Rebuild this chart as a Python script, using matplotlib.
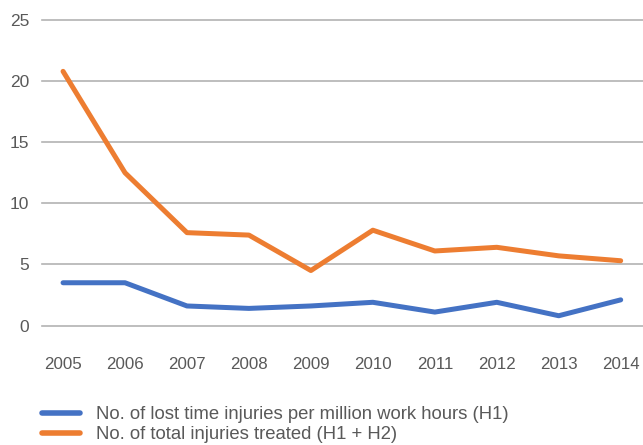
import matplotlib.pyplot as plt

# Injury statistics, 2005-2014
years = ['2005', '2006', '2007', '2008', '2009', '2010', '2011', '2012', '2013', '2014']
lost_time_h1 = [3.5, 3.5, 1.6, 1.4, 1.6, 1.9, 1.1, 1.9, 0.8, 2.1]
total_treated = [20.8, 12.5, 7.6, 7.4, 4.5, 7.8, 6.1, 6.4, 5.7, 5.3]

labels = ['No. of lost time injuries per million work hours (H1)',
          'No. of total injuries treated (H1 + H2)']

BLUE = '#4472C4'
ORANGE = '#ED7D31'
TEXT = '#595959'
GRID = '#b3b3b3'

plt.rcParams['font.family'] = ['Liberation Sans', 'DejaVu Sans']

fig = plt.figure(figsize=(6.43, 4.45), dpi=100)
ax = fig.add_axes([0.0653, 0.2685, 0.9347, 0.6865])

x = list(range(len(years)))
ax.plot(x, lost_time_h1, color=BLUE, lw=3.6, solid_capstyle='round',
        solid_joinstyle='round', label=labels[0], zorder=3)
ax.plot(x, total_treated, color=ORANGE, lw=3.6, solid_capstyle='round',
        solid_joinstyle='round', label=labels[1], zorder=3)

ax.set_xlim(-0.34, 9.36)
ax.set_ylim(0, 25)
ax.set_yticks([0, 5, 10, 15, 20, 25])
ax.set_xticks(x)
ax.set_xticklabels(years, fontsize=12.2, color=TEXT)
ax.tick_params(axis='y', labelsize=12.5, labelcolor=TEXT, length=0, pad=9)
ax.tick_params(axis='x', length=0, pad=23)

ax.grid(axis='y', color=GRID, lw=1.2)
for line in ax.get_ygridlines():
    line.set_clip_on(False)
ax.set_axisbelow(True)
for s in ax.spines.values():
    s.set_visible(False)

leg = fig.legend(loc='center left', bbox_to_anchor=(0.065, 0.0456), frameon=False,
                 fontsize=13.3, labelcolor=TEXT, handlelength=2.08,
                 handletextpad=0.84, labelspacing=0.16, borderaxespad=0,
                 borderpad=0)
for h in leg.get_lines():
    h.set_linewidth(4.0)
    h.set_solid_capstyle('round')

fig.savefig('out.png', dpi=100)
